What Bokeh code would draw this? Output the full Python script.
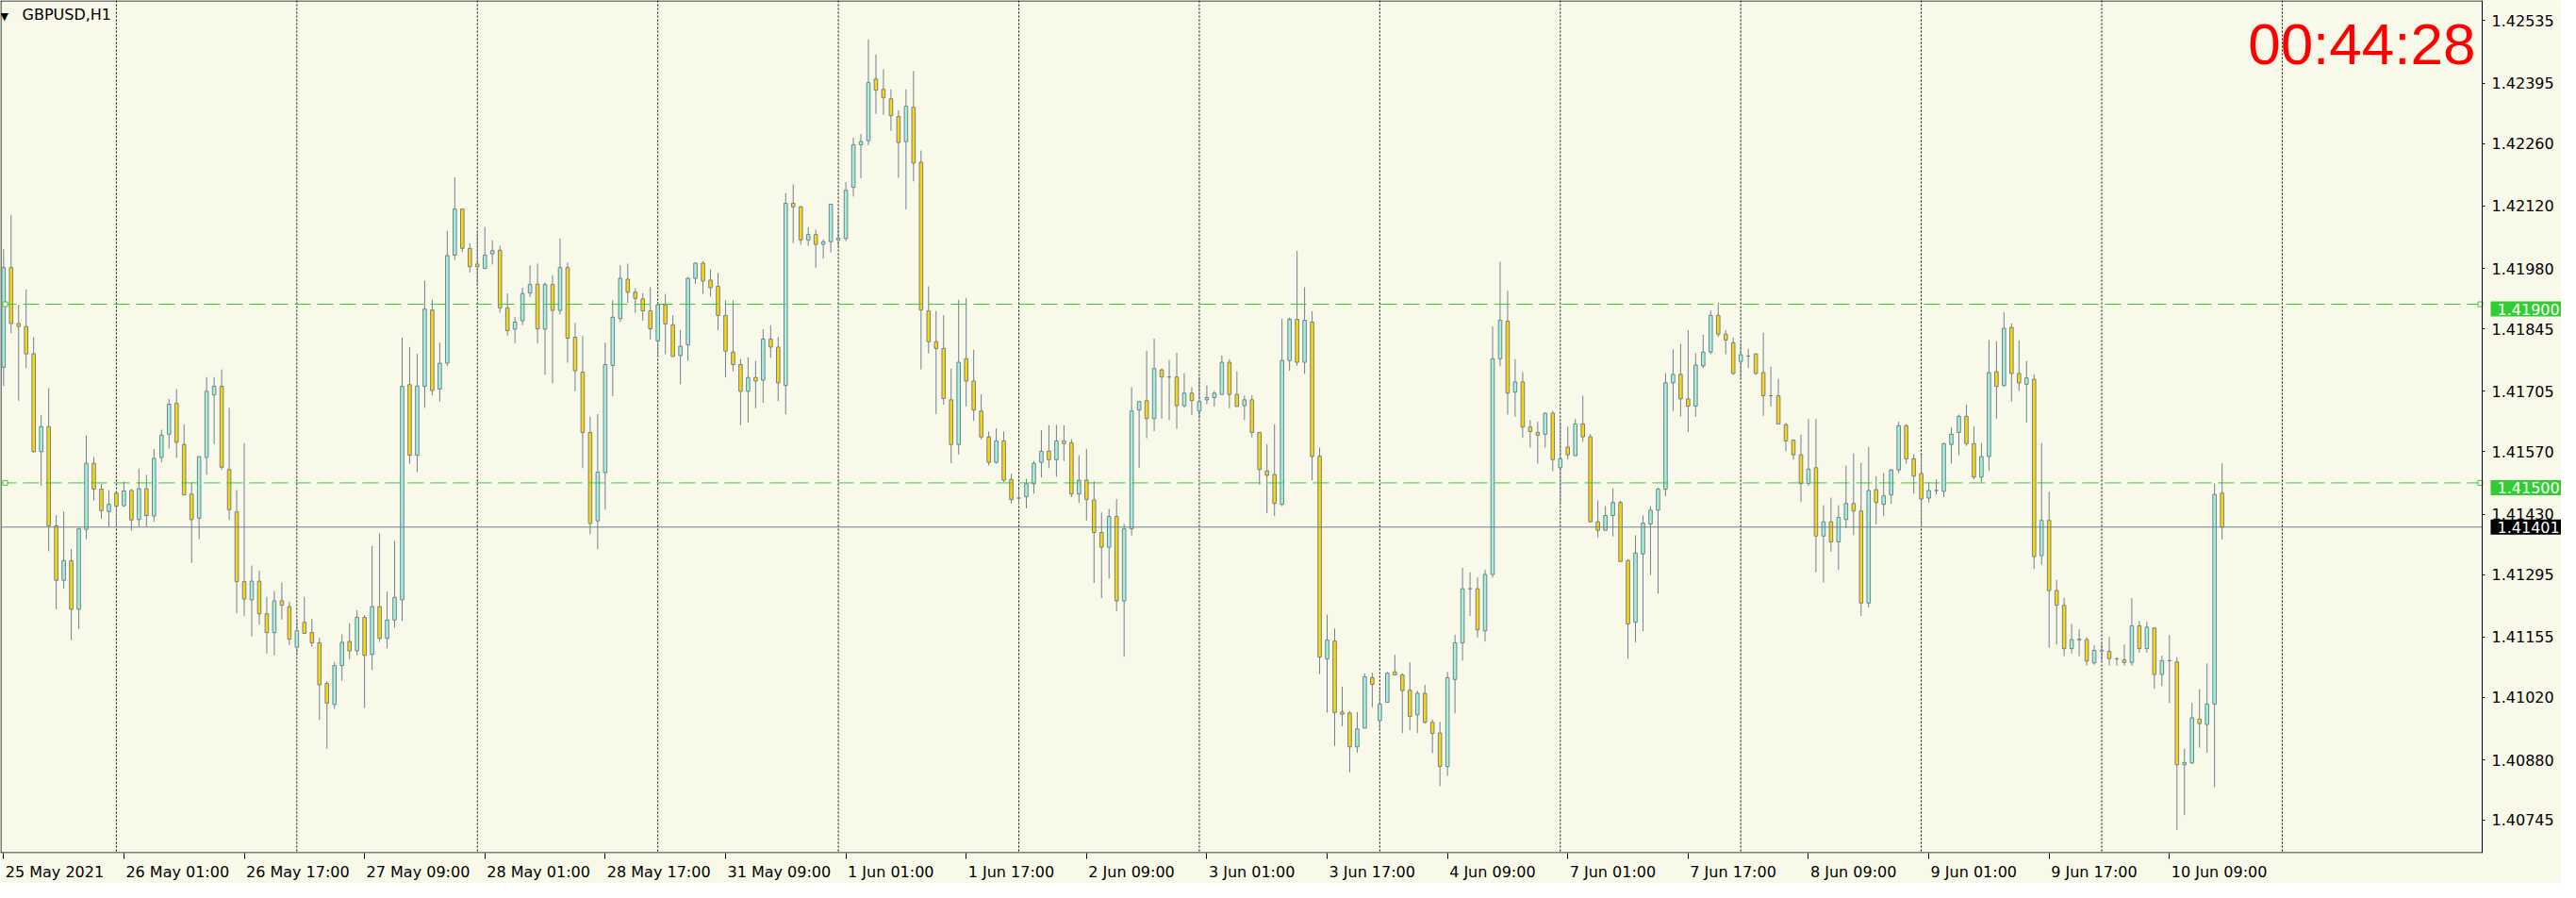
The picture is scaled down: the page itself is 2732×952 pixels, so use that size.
import pandas as pd
from bokeh.plotting import figure
from bokeh.models import (Range1d, FixedTicker, CustomJSTickFormatter, PrintfTickFormatter,
                          Span, Label, ColumnDataSource)
from bokeh.embed import file_html
from bokeh.resources import INLINE

# ---------------- data ----------------
symbol_title = "GBPUSD,H1"
first_bar = "2021-05-25 09:00"
countdown = "00:44:28"

opens = [
    1.41759, 1.41982, 1.41857, 1.41850, 1.41789, 1.41570, 1.41626, 1.41404, 1.41282, 1.41326,
    1.41217, 1.41396, 1.41544, 1.41486, 1.41436, 1.41477, 1.41449, 1.41483, 1.41418, 1.41487,
    1.41426, 1.41557, 1.41609, 1.41678, 1.41586, 1.41475, 1.41421, 1.41557, 1.41697, 1.41716,
    1.41530, 1.41435, 1.41279, 1.41238, 1.41280, 1.41207, 1.41165, 1.41236, 1.41223, 1.41132,
    1.41188, 1.41165, 1.41142, 1.41051, 1.41004, 1.41091, 1.41145, 1.41124, 1.41199, 1.41116,
    1.41223, 1.41152, 1.41193, 1.41238, 1.41720, 1.41562, 1.41716, 1.41887, 1.41710, 1.41768,
    1.42010, 1.42113, 1.42025, 1.41990, 1.41980, 1.42013, 1.42021, 1.41892, 1.41844, 1.41863,
    1.41925, 1.41945, 1.41844, 1.41944, 1.41886, 1.41982, 1.41826, 1.41748, 1.41613, 1.41415,
    1.41523, 1.41763, 1.41868, 1.41956, 1.41927, 1.41912, 1.41885, 1.41818, 1.41899, 1.41854,
    1.41785, 1.41809, 1.41958, 1.41992, 1.41954, 1.41940, 1.41875, 1.41793, 1.41765, 1.41705,
    1.41736, 1.41730, 1.41822, 1.41804, 1.41718, 1.42126, 1.42118, 1.42044, 1.42056, 1.42034,
    1.42040, 1.42044, 1.42047, 1.42162, 1.42257, 1.42266, 1.42404, 1.42381, 1.42360, 1.42320,
    1.42264, 1.42341, 1.42218, 1.41885, 1.41816, 1.41801, 1.41686, 1.41586, 1.41778, 1.41728,
    1.41661, 1.41603, 1.41546, 1.41594, 1.41508, 1.41466, 1.41469, 1.41498, 1.41546, 1.41571,
    1.41552, 1.41594, 1.41590, 1.41475, 1.41506, 1.41462, 1.41389, 1.41356, 1.41425, 1.41236,
    1.41397, 1.41663, 1.41684, 1.41644, 1.41753, 1.41737, 1.41737, 1.41673, 1.41701, 1.41661,
    1.41686, 1.41691, 1.41698, 1.41770, 1.41698, 1.41673, 1.41686, 1.41613, 1.41527, 1.41519,
    1.41452, 1.41774, 1.41866, 1.41770, 1.41860, 1.41560, 1.41106, 1.41146, 1.40987, 1.40985,
    1.40909, 1.40951, 1.41064, 1.40968, 1.41009, 1.41077, 1.41070, 1.41036, 1.40981, 1.41029,
    1.40964, 1.40940, 1.40865, 1.41060, 1.41142, 1.41263, 1.41263, 1.41169, 1.41295, 1.41778,
    1.41862, 1.41703, 1.41726, 1.41625, 1.41613, 1.41609, 1.41656, 1.41534, 1.41580, 1.41561,
    1.41632, 1.41603, 1.41413, 1.41394, 1.41427, 1.41456, 1.41326, 1.41188, 1.41341, 1.41408,
    1.41439, 1.41486, 1.41724, 1.41743, 1.41688, 1.41672, 1.41762, 1.41793, 1.41875, 1.41833,
    1.41814, 1.41772, 1.41784, 1.41789, 1.41747, 1.41695, 1.41695, 1.41630, 1.41596, 1.41563,
    1.41499, 1.41534, 1.41381, 1.41413, 1.41368, 1.41418, 1.41454, 1.41437, 1.41231, 1.41485,
    1.41452, 1.41473, 1.41529, 1.41628, 1.41554, 1.41521, 1.41466, 1.41483, 1.41481, 1.41586,
    1.41613, 1.41649, 1.41588, 1.41513, 1.41559, 1.41749, 1.41718, 1.41848, 1.41745, 1.41721,
    1.41732, 1.41337, 1.41416, 1.41259, 1.41226, 1.41129, 1.41149, 1.41149, 1.41097, 1.41125,
    1.41123, 1.41106, 1.41104, 1.41098, 1.41180, 1.41129, 1.41175, 1.41071, 1.41102, 1.41099,
    1.40869, 1.40873, 1.40971, 1.40959, 1.41005, 1.41477,
]
highs = [
    1.42023, 1.42100, 1.41899, 1.41933, 1.41826, 1.41652, 1.41712, 1.41428, 1.41436, 1.41352,
    1.41400, 1.41606, 1.41558, 1.41498, 1.41484, 1.41480, 1.41503, 1.41486, 1.41531, 1.41518,
    1.41576, 1.41619, 1.41688, 1.41710, 1.41631, 1.41502, 1.41559, 1.41737, 1.41737, 1.41754,
    1.41668, 1.41484, 1.41589, 1.41315, 1.41304, 1.41245, 1.41258, 1.41277, 1.41234, 1.41194,
    1.41245, 1.41195, 1.41153, 1.41056, 1.41099, 1.41161, 1.41186, 1.41215, 1.41204, 1.41359,
    1.41387, 1.41257, 1.41370, 1.41825, 1.41804, 1.41789, 1.41953, 1.41910, 1.41814, 1.42064,
    1.42184, 1.42113, 1.42036, 1.42064, 1.42073, 1.42043, 1.42031, 1.41924, 1.41872, 1.41937,
    1.41987, 1.41991, 1.41949, 1.41965, 1.42047, 1.41993, 1.41858, 1.41829, 1.41648, 1.41654,
    1.41814, 1.41909, 1.41987, 1.41991, 1.41936, 1.41925, 1.41938, 1.41905, 1.41923, 1.41875,
    1.41842, 1.41961, 1.41994, 1.41996, 1.41978, 1.41970, 1.41909, 1.41909, 1.41777, 1.41781,
    1.41773, 1.41844, 1.41852, 1.41827, 1.42149, 1.42168, 1.42120, 1.42072, 1.42067, 1.42045,
    1.42124, 1.42100, 1.42173, 1.42273, 1.42281, 1.42493, 1.42459, 1.42426, 1.42381, 1.42334,
    1.42381, 1.42422, 1.42244, 1.41940, 1.41885, 1.41875, 1.41756, 1.41910, 1.41914, 1.41798,
    1.41698, 1.41615, 1.41622, 1.41615, 1.41520, 1.41486, 1.41509, 1.41549, 1.41618, 1.41629,
    1.41630, 1.41629, 1.41598, 1.41562, 1.41576, 1.41504, 1.41434, 1.41442, 1.41464, 1.41408,
    1.41714, 1.41684, 1.41796, 1.41823, 1.41756, 1.41775, 1.41791, 1.41746, 1.41714, 1.41737,
    1.41718, 1.41706, 1.41785, 1.41777, 1.41749, 1.41695, 1.41696, 1.41613, 1.41587, 1.41631,
    1.41867, 1.41870, 1.42019, 1.41938, 1.41884, 1.41579, 1.41205, 1.41174, 1.41044, 1.40989,
    1.40987, 1.41073, 1.41075, 1.41039, 1.41077, 1.41115, 1.41074, 1.41098, 1.41035, 1.41048,
    1.40970, 1.40965, 1.41077, 1.41160, 1.41310, 1.41300, 1.41289, 1.41306, 1.41850, 1.41995,
    1.41930, 1.41777, 1.41748, 1.41641, 1.41637, 1.41658, 1.41661, 1.41636, 1.41626, 1.41643,
    1.41695, 1.41609, 1.41461, 1.41448, 1.41488, 1.41460, 1.41329, 1.41383, 1.41427, 1.41448,
    1.41489, 1.41746, 1.41799, 1.41811, 1.41842, 1.41790, 1.41832, 1.41886, 1.41903, 1.41842,
    1.41825, 1.41813, 1.41800, 1.41789, 1.41836, 1.41760, 1.41733, 1.41634, 1.41596, 1.41608,
    1.41643, 1.41643, 1.41450, 1.41467, 1.41450, 1.41539, 1.41566, 1.41545, 1.41580, 1.41515,
    1.41522, 1.41531, 1.41637, 1.41631, 1.41564, 1.41561, 1.41502, 1.41508, 1.41590, 1.41624,
    1.41653, 1.41675, 1.41626, 1.41589, 1.41820, 1.41817, 1.41882, 1.41857, 1.41819, 1.41773,
    1.41743, 1.41589, 1.41480, 1.41283, 1.41243, 1.41184, 1.41172, 1.41154, 1.41136, 1.41140,
    1.41155, 1.41110, 1.41138, 1.41242, 1.41191, 1.41189, 1.41177, 1.41113, 1.41159, 1.41110,
    1.40905, 1.41008, 1.41038, 1.41096, 1.41499, 1.41544,
]
lows = [
    1.41717, 1.41835, 1.41684, 1.41757, 1.41568, 1.41494, 1.41347, 1.41217, 1.41263, 1.41148,
    1.41173, 1.41374, 1.41460, 1.41420, 1.41402, 1.41402, 1.41446, 1.41393, 1.41402, 1.41402,
    1.41413, 1.41546, 1.41577, 1.41556, 1.41473, 1.41321, 1.41374, 1.41518, 1.41587, 1.41529,
    1.41417, 1.41208, 1.41202, 1.41156, 1.41183, 1.41118, 1.41114, 1.41194, 1.41137, 1.41117,
    1.41163, 1.41133, 1.40969, 1.40905, 1.40994, 1.41057, 1.41105, 1.41114, 1.40996, 1.41081,
    1.41144, 1.41130, 1.41176, 1.41191, 1.41543, 1.41524, 1.41668, 1.41696, 1.41682, 1.41762,
    1.41999, 1.42017, 1.41971, 1.41941, 1.41980, 1.41989, 1.41881, 1.41830, 1.41813, 1.41853,
    1.41916, 1.41812, 1.41742, 1.41723, 1.41877, 1.41769, 1.41705, 1.41533, 1.41385, 1.41352,
    1.41440, 1.41694, 1.41860, 1.41903, 1.41881, 1.41863, 1.41821, 1.41782, 1.41788, 1.41783,
    1.41721, 1.41773, 1.41945, 1.41923, 1.41917, 1.41842, 1.41736, 1.41750, 1.41629, 1.41635,
    1.41667, 1.41679, 1.41780, 1.41683, 1.41654, 1.42037, 1.42033, 1.42031, 1.41981, 1.42002,
    1.42016, 1.42031, 1.42041, 1.42141, 1.42182, 1.42256, 1.42326, 1.42324, 1.42288, 1.42183,
    1.42112, 1.42175, 1.41754, 1.41790, 1.41654, 1.41675, 1.41544, 1.41564, 1.41671, 1.41639,
    1.41597, 1.41539, 1.41543, 1.41502, 1.41454, 1.41452, 1.41443, 1.41476, 1.41512, 1.41533,
    1.41514, 1.41549, 1.41468, 1.41455, 1.41416, 1.41276, 1.41242, 1.41286, 1.41213, 1.41111,
    1.41382, 1.41533, 1.41600, 1.41616, 1.41644, 1.41641, 1.41621, 1.41668, 1.41652, 1.41644,
    1.41676, 1.41671, 1.41698, 1.41667, 1.41671, 1.41641, 1.41602, 1.41496, 1.41432, 1.41426,
    1.41448, 1.41751, 1.41762, 1.41744, 1.41506, 1.41072, 1.40986, 1.40911, 1.40955, 1.40852,
    1.40896, 1.40951, 1.40998, 1.40947, 1.41009, 1.41070, 1.40940, 1.40946, 1.40940, 1.40961,
    1.40895, 1.40821, 1.40844, 1.40984, 1.41102, 1.41202, 1.41154, 1.41145, 1.41288, 1.41761,
    1.41653, 1.41648, 1.41601, 1.41579, 1.41543, 1.41579, 1.41526, 1.41456, 1.41552, 1.41561,
    1.41592, 1.41411, 1.41378, 1.41394, 1.41380, 1.41324, 1.41106, 1.41143, 1.41168, 1.41294,
    1.41252, 1.41470, 1.41661, 1.41649, 1.41614, 1.41648, 1.41757, 1.41788, 1.41827, 1.41788,
    1.41742, 1.41735, 1.41757, 1.41742, 1.41650, 1.41671, 1.41632, 1.41571, 1.41552, 1.41457,
    1.41493, 1.41300, 1.41277, 1.41346, 1.41305, 1.41399, 1.41383, 1.41202, 1.41221, 1.41407,
    1.41426, 1.41453, 1.41522, 1.41543, 1.41476, 1.41402, 1.41456, 1.41474, 1.41468, 1.41543,
    1.41562, 1.41583, 1.41508, 1.41501, 1.41527, 1.41644, 1.41715, 1.41682, 1.41706, 1.41635,
    1.41307, 1.41317, 1.41131, 1.41138, 1.41112, 1.41118, 1.41112, 1.41091, 1.41093, 1.41102,
    1.41091, 1.41091, 1.41091, 1.41091, 1.41120, 1.41120, 1.41039, 1.41045, 1.41007, 1.40723,
    1.40756, 1.40871, 1.40907, 1.40896, 1.40819, 1.41373,
]
closes = [
    1.41982, 1.41857, 1.41850, 1.41789, 1.41570, 1.41626, 1.41404, 1.41282, 1.41326, 1.41217,
    1.41397, 1.41544, 1.41486, 1.41438, 1.41452, 1.41448, 1.41482, 1.41417, 1.41487, 1.41427,
    1.41555, 1.41607, 1.41676, 1.41591, 1.41473, 1.41418, 1.41559, 1.41705, 1.41716, 1.41535,
    1.41440, 1.41279, 1.41240, 1.41280, 1.41207, 1.41165, 1.41236, 1.41226, 1.41150, 1.41169,
    1.41163, 1.41142, 1.41048, 1.41007, 1.41091, 1.41143, 1.41124, 1.41199, 1.41114, 1.41223,
    1.41152, 1.41193, 1.41244, 1.41716, 1.41562, 1.41717, 1.41889, 1.41707, 1.41768, 1.42009,
    1.42113, 1.42025, 1.41984, 1.41984, 1.42010, 1.42020, 1.41892, 1.41841, 1.41860, 1.41924,
    1.41944, 1.41845, 1.41944, 1.41886, 1.41982, 1.41824, 1.41751, 1.41613, 1.41409, 1.41524,
    1.41765, 1.41871, 1.41958, 1.41927, 1.41913, 1.41885, 1.41845, 1.41899, 1.41856, 1.41783,
    1.41806, 1.41958, 1.41992, 1.41952, 1.41937, 1.41875, 1.41795, 1.41765, 1.41705, 1.41736,
    1.41728, 1.41822, 1.41804, 1.41724, 1.42126, 1.42118, 1.42044, 1.42056, 1.42034, 1.42040,
    1.42124, 1.42048, 1.42155, 1.42257, 1.42264, 1.42396, 1.42379, 1.42362, 1.42322, 1.42262,
    1.42343, 1.42216, 1.41887, 1.41816, 1.41801, 1.41689, 1.41586, 1.41770, 1.41728, 1.41663,
    1.41603, 1.41546, 1.41594, 1.41506, 1.41463, 1.41466, 1.41498, 1.41544, 1.41571, 1.41552,
    1.41594, 1.41588, 1.41475, 1.41506, 1.41463, 1.41389, 1.41356, 1.41425, 1.41236, 1.41397,
    1.41661, 1.41682, 1.41644, 1.41756, 1.41737, 1.41737, 1.41673, 1.41701, 1.41684, 1.41682,
    1.41691, 1.41701, 1.41770, 1.41698, 1.41671, 1.41686, 1.41613, 1.41530, 1.41517, 1.41454,
    1.41774, 1.41866, 1.41770, 1.41864, 1.41559, 1.41110, 1.41148, 1.40986, 1.40982, 1.40909,
    1.40949, 1.41066, 1.41049, 1.41005, 1.41074, 1.41070, 1.41035, 1.40977, 1.41029, 1.40964,
    1.40939, 1.40865, 1.41064, 1.41142, 1.41263, 1.41263, 1.41171, 1.41295, 1.41778, 1.41864,
    1.41701, 1.41726, 1.41625, 1.41615, 1.41607, 1.41656, 1.41552, 1.41554, 1.41563, 1.41632,
    1.41603, 1.41413, 1.41394, 1.41427, 1.41456, 1.41324, 1.41184, 1.41343, 1.41410, 1.41439,
    1.41486, 1.41724, 1.41743, 1.41688, 1.41672, 1.41764, 1.41793, 1.41875, 1.41833, 1.41820,
    1.41745, 1.41787, 1.41784, 1.41745, 1.41695, 1.41695, 1.41632, 1.41594, 1.41563, 1.41498,
    1.41531, 1.41381, 1.41413, 1.41368, 1.41423, 1.41454, 1.41437, 1.41231, 1.41483, 1.41456,
    1.41471, 1.41529, 1.41628, 1.41554, 1.41515, 1.41464, 1.41483, 1.41483, 1.41588, 1.41609,
    1.41649, 1.41588, 1.41513, 1.41559, 1.41747, 1.41716, 1.41846, 1.41745, 1.41724, 1.41735,
    1.41335, 1.41416, 1.41259, 1.41226, 1.41129, 1.41149, 1.41150, 1.41101, 1.41125, 1.41124,
    1.41107, 1.41106, 1.41098, 1.41180, 1.41129, 1.41177, 1.41071, 1.41102, 1.41102, 1.40869,
    1.40874, 1.40974, 1.40961, 1.41005, 1.41474, 1.41401,
]

date_labels = [
    "25 May 2021", "26 May 01:00", "26 May 17:00", "27 May 09:00", "28 May 01:00",
    "28 May 17:00", "31 May 09:00", "1 Jun 01:00", "1 Jun 17:00", "2 Jun 09:00",
    "3 Jun 01:00", "3 Jun 17:00", "4 Jun 09:00", "7 Jun 01:00", "7 Jun 17:00",
    "8 Jun 09:00", "9 Jun 01:00", "9 Jun 17:00", "10 Jun 09:00",
]
label_every = 16  # bars between time labels

price_ticks = [1.42535, 1.42395, 1.42260, 1.42120, 1.41980, 1.41845, 1.41705,
               1.41570, 1.41430, 1.41295, 1.41155, 1.41020, 1.40880, 1.40745]
level_prices = [1.41900, 1.41500]
bid_price = 1.41401

# ---------------- style / layout ----------------
BG = "#F9F9EA"
BULL = "#A0F3D8"
BEAR = "#FFD700"
EDGE = "#708090"
LIME = "#32CD32"
FONT = "DejaVu Sans"

W, H = 2716, 936
FRAME_H = 911
CHART_PX = 2632                      # width of the candle area in pixels
px_per_bar = CHART_PX / 2640 * 8.0
X0 = -3.3 / 8.0
XB = X0 + CHART_PX / px_per_bar      # chart border (price scale position)
X1 = X0 + W / px_per_bar
Y0, Y1 = 1.40671, 1.42580
px_per_price = FRAME_H / (Y1 - Y0)

n = len(closes)
assert len(opens) == len(highs) == len(lows) == n
xs = list(range(n))
tops = [max(o, c) for o, c in zip(opens, closes)]
bottoms = [min(o, c) for o, c in zip(opens, closes)]
colors = [BULL if c >= o else BEAR for o, c in zip(opens, closes)]

p = figure(width=W, height=H, x_range=Range1d(X0, X1), y_range=Range1d(Y0, Y1),
           y_axis_location="right", toolbar_location=None, output_backend="svg",
           min_border_left=0, min_border_top=0, min_border_right=0,
           min_border_bottom=H - FRAME_H,
           background_fill_color=BG, border_fill_color=BG, outline_line_color=None)
p.grid.visible = False

# day separators (vertical dotted grid) at midnight bars
times = [t for t in pd.date_range(first_bar, periods=24 * 60, freq="h") if t.dayofweek < 5]
for i, t in enumerate(times[: n + 23]):
    if t.hour == 0:
        p.add_layout(Span(location=i, dimension="height", line_color="black",
                          line_dash="2 2", line_width=1, level="underlay"))

# chart frame (left, top, bottom edges; right edge is the price axis line)
hx = 0.5 / px_per_bar
hy = 0.5 / px_per_price
p.multi_line(xs=[[X0 + hx, X0 + hx], [X0, XB], [X0, XB]],
             ys=[[Y0, Y1], [Y1 - hy, Y1 - hy], [Y0 + hy, Y0 + hy]],
             line_color="black", line_width=1)

# candles
src = ColumnDataSource(dict(x=xs, high=highs, low=lows, top=tops, bottom=bottoms, color=colors))
p.segment(x0="x", y0="low", x1="x", y1="high", source=src, line_color=EDGE, line_width=1)
p.vbar(x="x", width=0.45, top="top", bottom="bottom", source=src,
       fill_color="color", line_color=EDGE, line_width=1)

# horizontal levels
p.segment(x0=[X0] * len(level_prices), x1=[XB] * len(level_prices),
          y0=level_prices, y1=level_prices, line_color=LIME, line_dash="17 7", line_width=1)
p.scatter(x=[X0 + 5 / px_per_bar] * len(level_prices) + [XB - 2 / px_per_bar] * len(level_prices),
          y=level_prices * 2, marker="square", size=5, fill_color=BG, line_color=LIME)
p.segment(x0=[X0], x1=[XB], y0=[bid_price], y1=[bid_price], line_color=EDGE, line_width=1)

# time axis
def text_w(s, size=16):
    em = {" ": 0.318, ":": 0.337, "M": 0.863, "a": 0.613, "y": 0.592,
          "J": 0.295, "u": 0.634, "n": 0.634}
    return sum(em.get(ch, 0.636) for ch in s) * size

label_bars = [k * label_every for k in range(len(date_labels))]
centers = [b + (text_w(s) / 2 + 2) / px_per_bar for b, s in zip(label_bars, date_labels)]
xa = p.xaxis[0]
xa.ticker = FixedTicker(ticks=centers, minor_ticks=label_bars)
xa.formatter = CustomJSTickFormatter(args=dict(labels=date_labels), code="return labels[index];")
xa.major_tick_line_color = None
xa.major_tick_in = 0
xa.major_tick_out = 0
xa.minor_tick_line_color = "black"
xa.minor_tick_in = 0
xa.minor_tick_out = 6
xa.axis_line_color = None
xa.major_label_standoff = 4
xa.major_label_text_font = FONT
xa.major_label_text_font_size = "16px"
xa.major_label_text_color = "black"

# price axis drawn at the chart border
ya = p.yaxis[0]
ya.fixed_location = XB
ya.ticker = FixedTicker(ticks=price_ticks)
ya.formatter = PrintfTickFormatter(format="%.5f")
ya.major_tick_in = 0
ya.major_tick_out = 3
ya.minor_tick_line_color = None
ya.axis_line_color = "black"
ya.major_tick_line_color = "black"
ya.major_label_standoff = 7
ya.major_label_text_font = FONT
ya.major_label_text_font_size = "16px"
ya.major_label_text_color = "black"

# price boxes on the scale
for lv in level_prices:
    p.add_layout(Label(x=XB, y=lv, x_offset=9, y_offset=-5, x_units="data", y_units="data",
                       text=f"{lv:.5f}", text_color="white", text_font=FONT,
                       text_font_size="16px", text_baseline="middle", text_align="left",
                       background_fill_color=LIME, padding=(7, 2)))
p.add_layout(Label(x=XB, y=bid_price, x_offset=9, x_units="data", y_units="data",
                   text=f"{bid_price:.5f}", text_color="white", text_font=FONT,
                   text_font_size="16px", text_baseline="middle", text_align="left",
                   background_fill_color="black", padding=(7, 2)))

# symbol title and countdown
p.add_layout(Label(x=0, y=FRAME_H - 24, x_units="screen", y_units="screen", text="\u25BC",
                   text_font=FONT, text_font_size="11px", text_color="black",
                   text_baseline="alphabetic", text_align="left"))
p.add_layout(Label(x=23, y=FRAME_H - 22, x_units="screen", y_units="screen", text=symbol_title,
                   text_font=FONT, text_font_size="16px", text_color="black",
                   text_baseline="alphabetic", text_align="left"))
p.add_layout(Label(x=XB, x_offset=-7, y=FRAME_H - 53, x_units="data", y_units="screen",
                   text=countdown, text_font="Liberation Sans", text_font_size="62px",
                   text_color="#FF0000", text_baseline="alphabetic", text_align="right"))

open("out.html", "w").write(file_html(p, INLINE))
